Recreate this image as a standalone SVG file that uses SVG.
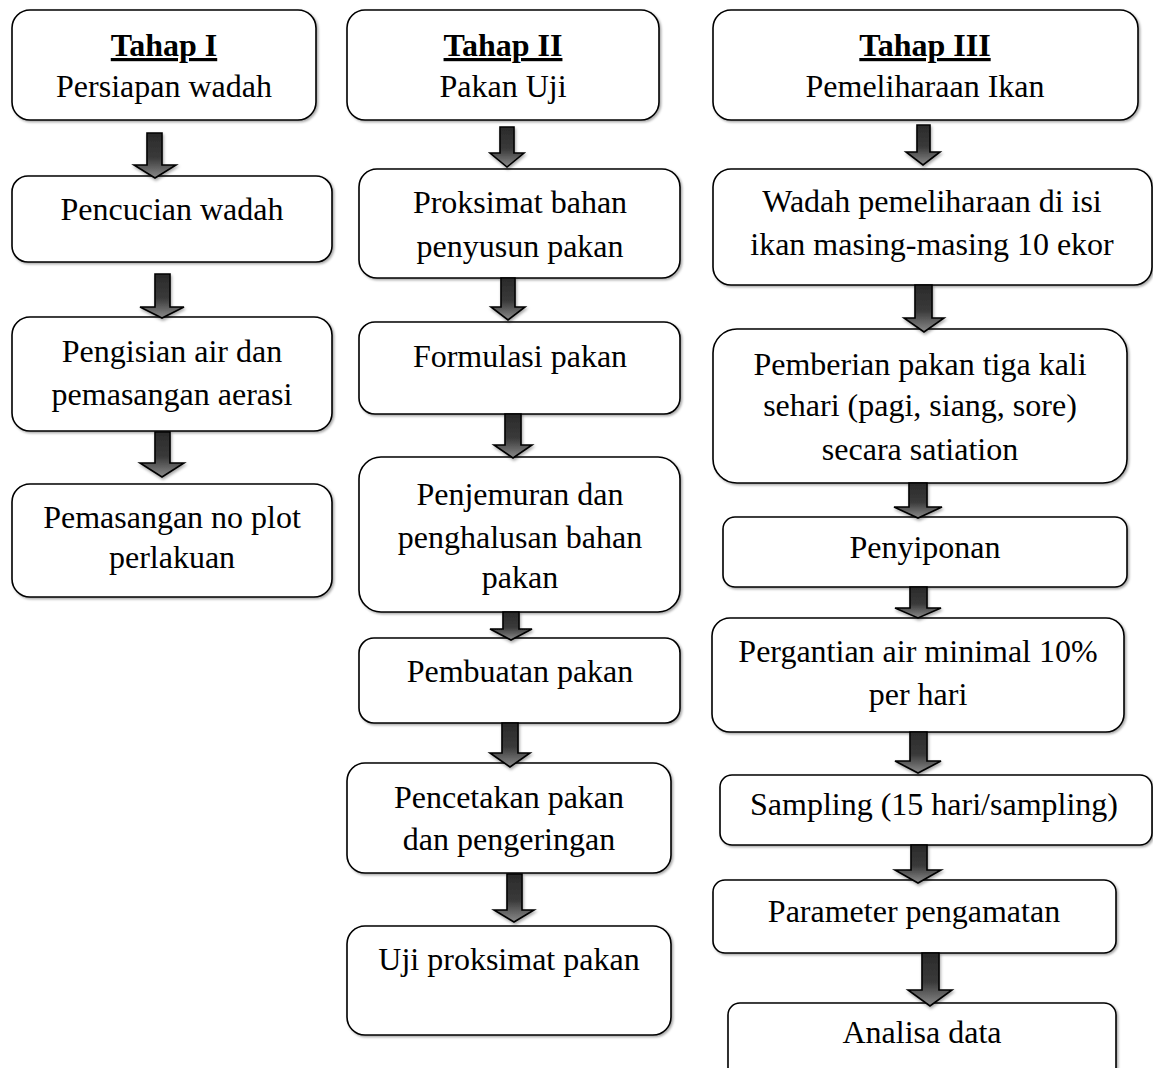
<svg xmlns="http://www.w3.org/2000/svg" width="1153" height="1068" viewBox="0 0 1153 1068">
<defs>
<linearGradient id="ag" x1="0" y1="0" x2="0" y2="1">
<stop offset="0" stop-color="#2a2a2a"/>
<stop offset="0.55" stop-color="#3a3a3a"/>
<stop offset="1" stop-color="#8a8a8a"/>
</linearGradient>
<filter id="sh" x="-20%" y="-20%" width="140%" height="140%">
<feDropShadow dx="1.5" dy="1.5" stdDeviation="1" flood-color="#000" flood-opacity="0.35"/>
</filter>
<filter id="ash" x="-50%" y="-20%" width="200%" height="140%">
<feDropShadow dx="1" dy="2" stdDeviation="1.5" flood-color="#000" flood-opacity="0.35"/>
</filter>
</defs>
<style>
.box{fill:#fff;stroke:#000;stroke-width:1.6;filter:url(#sh)}
.t{font-family:"Liberation Serif","Times New Roman",serif;font-size:32px;fill:#000;text-anchor:middle}
.b{font-weight:bold;text-decoration:underline}
.arr{fill:url(#ag);stroke:#000;stroke-width:1.6;stroke-linejoin:miter;filter:url(#ash)}
</style>
<rect width="1153" height="1068" fill="#fff"/>

<!-- Column 1 -->
<g id="n-tahap1">
<rect class="box" x="12" y="10" width="304" height="110" rx="18"/>
<text class="t b" x="164" y="56">Tahap I</text>
<text class="t" x="164" y="97">Persiapan wadah</text>
</g>
<g id="n-pencucian">
<rect class="box" x="12" y="176" width="320" height="86" rx="16"/>
<text class="t" x="172" y="220">Pencucian wadah</text>
</g>
<g id="n-pengisian">
<rect class="box" x="12" y="317" width="320" height="114" rx="18"/>
<text class="t" x="172" y="362">Pengisian air dan</text>
<text class="t" x="172" y="405">pemasangan aerasi</text>
</g>
<g id="n-plot">
<rect class="box" x="12" y="484" width="320" height="113" rx="18"/>
<text class="t" x="172" y="528">Pemasangan no plot</text>
<text class="t" x="172" y="568">perlakuan</text>
</g>

<!-- Column 2 -->
<g id="n-tahap2">
<rect class="box" x="347" y="10" width="312" height="110" rx="18"/>
<text class="t b" x="503" y="56">Tahap II</text>
<text class="t" x="503" y="97">Pakan Uji</text>
</g>
<g id="n-proksimat">
<rect class="box" x="359" y="169" width="321" height="109" rx="18"/>
<text class="t" x="520" y="213">Proksimat bahan</text>
<text class="t" x="520" y="257">penyusun pakan</text>
</g>
<g id="n-formulasi">
<rect class="box" x="359" y="322" width="321" height="92" rx="16"/>
<text class="t" x="520" y="367">Formulasi pakan</text>
</g>
<g id="n-penjemuran">
<rect class="box" x="359" y="457" width="321" height="155" rx="22"/>
<text class="t" x="520" y="505">Penjemuran dan</text>
<text class="t" x="520" y="548">penghalusan bahan</text>
<text class="t" x="520" y="588">pakan</text>
</g>
<g id="n-pembuatan">
<rect class="box" x="359" y="638" width="321" height="85" rx="15"/>
<text class="t" x="520" y="682">Pembuatan pakan</text>
</g>
<g id="n-pencetakan">
<rect class="box" x="347" y="763" width="324" height="110" rx="18"/>
<text class="t" x="509" y="808">Pencetakan pakan</text>
<text class="t" x="509" y="850">dan pengeringan</text>
</g>
<g id="n-uji">
<rect class="box" x="347" y="926" width="324" height="109" rx="18"/>
<text class="t" x="509" y="970">Uji proksimat pakan</text>
</g>

<!-- Column 3 -->
<g id="n-tahap3">
<rect class="box" x="713" y="10" width="425" height="110" rx="18"/>
<text class="t b" x="925" y="56">Tahap III</text>
<text class="t" x="925" y="97">Pemeliharaan Ikan</text>
</g>
<g id="n-wadah">
<rect class="box" x="713" y="169" width="439" height="116" rx="18"/>
<text class="t" x="932" y="212">Wadah pemeliharaan di isi</text>
<text class="t" x="932" y="255">ikan masing-masing 10 ekor</text>
</g>
<g id="n-pemberian">
<rect class="box" x="713" y="329" width="414" height="154" rx="24"/>
<text class="t" x="920" y="375">Pemberian pakan tiga kali</text>
<text class="t" x="920" y="416">sehari (pagi, siang, sore)</text>
<text class="t" x="920" y="460">secara satiation</text>
</g>
<g id="n-penyiponan">
<rect class="box" x="723" y="517" width="404" height="70" rx="12"/>
<text class="t" x="925" y="558">Penyiponan</text>
</g>
<g id="n-pergantian">
<rect class="box" x="712" y="618" width="412" height="114" rx="18"/>
<text class="t" x="918" y="662">Pergantian air minimal 10%</text>
<text class="t" x="918" y="705">per hari</text>
</g>
<g id="n-sampling">
<rect class="box" x="720" y="775" width="432" height="70" rx="12"/>
<text class="t" x="934" y="815">Sampling (15 hari/sampling)</text>
</g>
<g id="n-parameter">
<rect class="box" x="713" y="880" width="403" height="73" rx="12"/>
<text class="t" x="914" y="922">Parameter pengamatan</text>
</g>
<g id="n-analisa">
<rect class="box" x="728" y="1003" width="388" height="80" rx="12"/>
<text class="t" x="922" y="1043">Analisa data</text>
</g>

<!-- Connectors: block arrows -->
<g id="connectors">
<path class="arr" d="M147,133 H162 V165 H176 L155,178 L134,165 H147 Z"/>
<path class="arr" d="M155,274 H170 V307 H184 L162,318 L140,307 H155 Z"/>
<path class="arr" d="M155,432 H170 V463 H184 L162,477 L140,463 H155 Z"/>

<path class="arr" d="M500,127 H514 V153 H524 L507,167 L490,153 H500 Z"/>
<path class="arr" d="M501,278 H515 V307 H525 L508,320 L491,307 H501 Z"/>
<path class="arr" d="M505,414 H521 V445 H532 L513,458 L494,445 H505 Z"/>
<path class="arr" d="M503,612 H519 V629 H532 L511,640 L490,629 H503 Z"/>
<path class="arr" d="M502,723 H518 V753 H530 L510,767 L490,753 H502 Z"/>
<path class="arr" d="M507,874 H522 V910 H534 L514,922 L494,910 H507 Z"/>

<path class="arr" d="M917,125 H930 V152 H940 L923,165 L906,152 H917 Z"/>
<path class="arr" d="M915,285 H932 V318 H944 L924,332 L904,318 H915 Z"/>
<path class="arr" d="M909,483 H927 V507 H942 L918,518 L894,507 H909 Z"/>
<path class="arr" d="M910,587 H927 V608 H941 L918,618 L895,608 H910 Z"/>
<path class="arr" d="M910,732 H927 V761 H941 L918,773 L895,761 H910 Z"/>
<path class="arr" d="M911,845 H927 V870 H941 L918,883 L895,870 H911 Z"/>
<path class="arr" d="M922,953 H939 V990 H952 L930,1006 L908,990 H922 Z"/>
</g>
</svg>
